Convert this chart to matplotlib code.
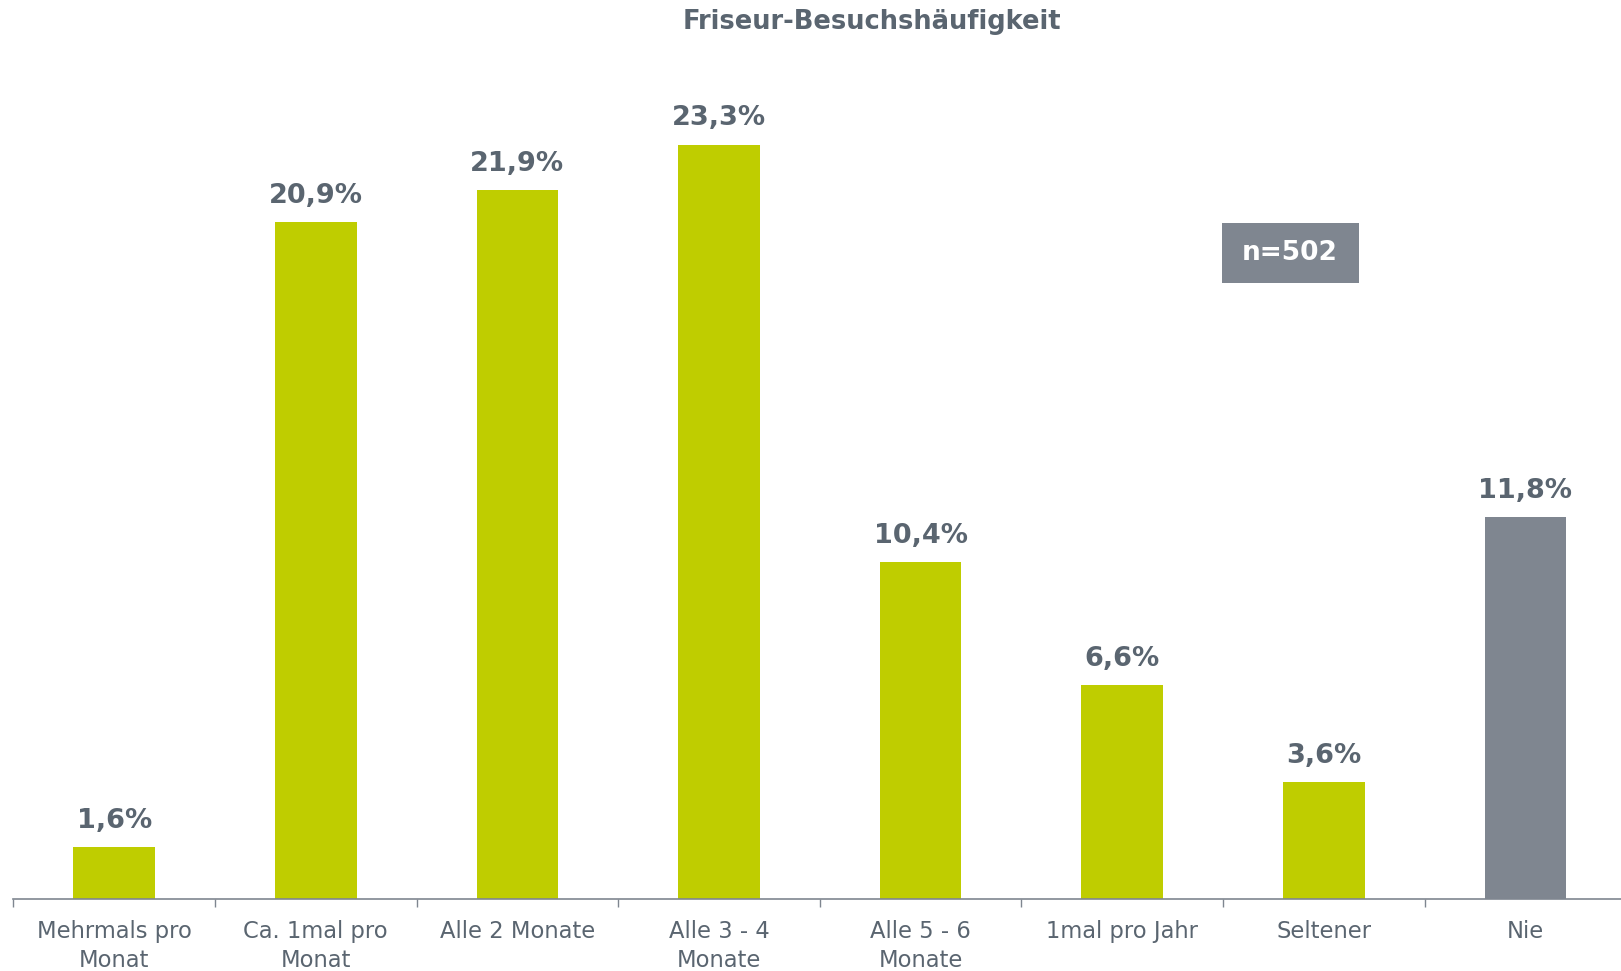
import matplotlib.pyplot as plt
from matplotlib.patches import Rectangle

categories = ["Mehrmals pro\nMonat", "Ca. 1mal pro\nMonat", "Alle 2 Monate", "Alle 3 - 4\nMonate",
              "Alle 5 - 6\nMonate", "1mal pro Jahr", "Seltener", "Nie"]
values = [1.6, 20.9, 21.9, 23.3, 10.4, 6.6, 3.6, 11.8]
labels = ["1,6%", "20,9%", "21,9%", "23,3%", "10,4%", "6,6%", "3,6%", "11,8%"]

green = "#bfcd00"
grey = "#7f8690"
text_col = "#5a6570"
colors = [green] * 7 + [grey]

plt.rcParams['font.family'] = ['DejaVu Sans']

fig = plt.figure(figsize=(16.21, 9.71), dpi=100)
ax = fig.add_axes([13.4 / 1621, 72 / 971, 8 * 201.6 / 1621, 27 * 32.37 / 971])

x = range(len(values))
bars = ax.bar(x, values, width=0.405, color=colors)
for b, lab in zip(bars, labels):
    ax.annotate(lab, (b.get_x() + b.get_width() / 2, b.get_height()),
                xytext=(0, 19), textcoords="offset points", ha="center", va="center",
                fontsize=19.5, fontweight="bold", color=text_col)

ax.set_xlim(-0.5, len(values) - 0.5)
ax.set_ylim(0, 27)
ax.set_yticks([])
for s in ["top", "right", "left"]:
    ax.spines[s].set_visible(False)
ax.spines["bottom"].set_color(grey)
ax.spines["bottom"].set_linewidth(1.2)

ax.set_xticks(list(x))
ax.set_xticklabels(categories, fontsize=16.3, color=text_col, linespacing=1.35, va="top")
ax.tick_params(axis="x", which="major", length=0, pad=15)
ax.set_xticks([i - 0.5 for i in range(len(values) + 1)], minor=True)
ax.tick_params(axis="x", which="minor", length=6, color=grey, width=1, direction="out")

fig.text(872 / 1621, 1 - 22 / 971, "Friseur-Besuchshäufigkeit", ha="center", va="center",
         fontsize=18.5, fontweight="bold", color=text_col)

# n box
fig.patches.append(Rectangle((1222 / 1621, 1 - 283 / 971), 137 / 1621, 60 / 971,
                             transform=fig.transFigure, facecolor=grey, edgecolor="none"))
fig.text(1290 / 1621, 1 - 253 / 971, "n=502", ha="center", va="center", fontsize=19,
         fontweight="bold", color="white")

fig.savefig("out.png", dpi=100)
